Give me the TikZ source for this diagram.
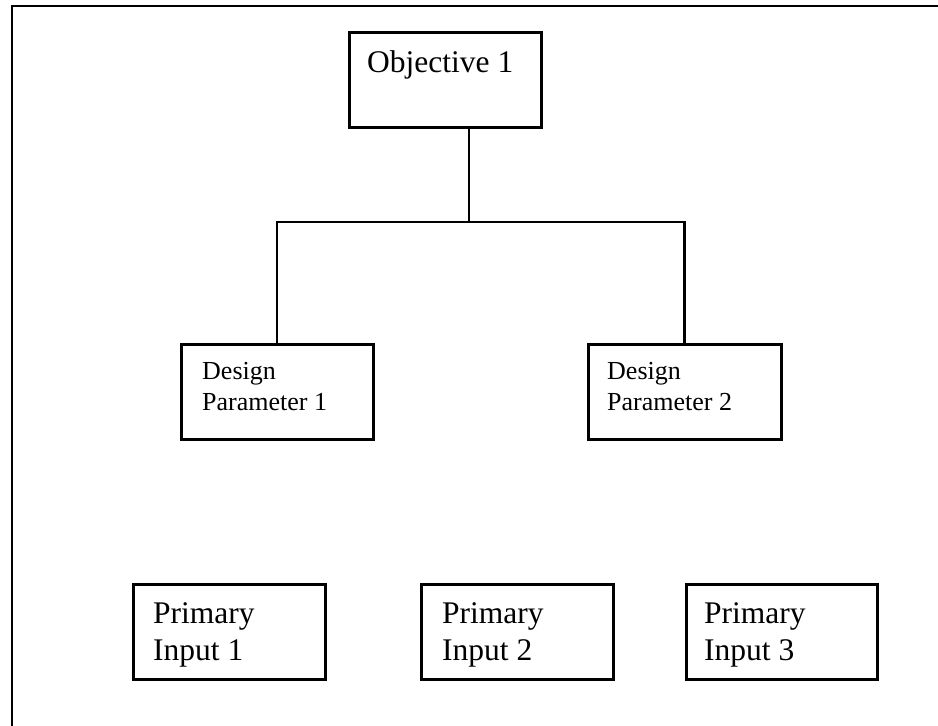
\documentclass[tikz,border=0pt]{standalone}
\usepackage{fontspec}
\setmainfont{Liberation Serif}
\usetikzlibrary{calc}
\begin{document}
\begin{tikzpicture}[x=1pt, y=-1pt,
  box/.style={draw, line width=3pt, rectangle, inner sep=0pt,
    minimum width=192pt, minimum height=95pt},
  % multi-line texts are placed by the baseline of their last line
  bigtext/.style={anchor=base west, inner sep=0pt, align=left,
    font=\fontsize{31.5}{37}\selectfont},
  smalltext/.style={anchor=base west, inner sep=0pt, align=left,
    font=\fontsize{26}{31}\selectfont},
  link/.style={draw, line width=2.2pt},
  frame/.style={draw, line width=2pt}]
  \useasboundingbox (0,0) rectangle (938,726);

  % page frame (only its top and left sides fall inside the picture)
  \draw[frame] (12,727) -- (12,6) -- (939,6);

  % boxes
  \node[box] (obj) at (445,79.5) {};
  \node[box] (dp1) at (277,391.5) {};
  \node[box, minimum width=193pt] (dp2) at (684.5,391.5) {};
  \node[box] (pi1) at (229,631.5) {};
  \node[box] (pi2) at (517,631.5) {};
  \node[box, minimum width=191pt] (pi3) at (781.5,631.5) {};

  % box texts
  \node[bigtext] (objtxt) at (367,72) {Objective 1};
  \node[smalltext] (dp1txt) at (202,410) {Design\\Parameter 1};
  \node[smalltext] (dp2txt) at (607,410) {Design\\Parameter 2};
  \node[bigtext] (pi1txt) at (153,660) {Primary\\Input 1};
  \node[bigtext] (pi2txt) at (442,660) {Primary\\Input 2};
  \node[bigtext] (pi3txt) at (704,660) {Primary\\Input 3};

  % tree connectors
  \coordinate (hub) at (469,222);
  \draw[link] (obj.south -| hub) -- (hub);
  \draw[link] (dp1.north) |- (hub) -| (dp2.north);
\end{tikzpicture}
\end{document}
